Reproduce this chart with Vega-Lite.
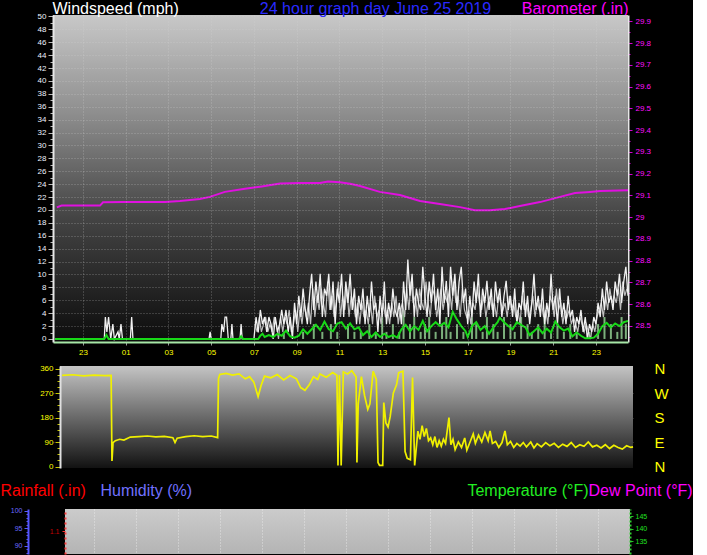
{
  "$schema": "https://vega.github.io/schema/vega-lite/v6.json",
  "background": "#000000",
  "padding": {"left": 0, "top": 0, "right": 0, "bottom": 0},
  "config": {
    "view": {"stroke": null},
    "font": "Liberation Sans",
    "axis": {"labelFont": "Liberation Sans", "titleFont": "Liberation Sans", "labelOverlap": false, "labelFlush": false, "titlePadding": 0}
  },
  "columns": 1,
  "spacing": 0,
  "concat": [
    {
      "width": 575,
      "height": 327,
      "resolve": {"scale": {"y": "independent"}},
      "layer": [
        {
          "layer": [
            {
              "data": {"values": [{}]},
              "mark": {"type": "rect", "fill": {"x1": 0, "y1": 0, "x2": 0, "y2": 1, "gradient": "linear", "stops": [{"offset": 0, "color": "#c8c8c8"}, {"offset": 0.3, "color": "#8e8e8e"}, {"offset": 0.62, "color": "#444444"}, {"offset": 1, "color": "#0c0c0c"}]}},
              "encoding": {
                "x": {"datum": -2.4, "type": "quantitative", "scale": {"domain": [-2.4, 24.5], "nice": false, "zero": false},
                  "axis": {"zindex": 1, "values": [-1, 1, 3, 5, 7, 9, 11, 13, 15, 17, 19, 21, 23], "tickCount": 40, "labelExpr": "datum.value < 0 ? '23' : (datum.value < 10 ? '0' + datum.value : '' + datum.value)", "labelOverlap": false, "labelColor": "#ffff00", "labelFontSize": 8, "labelPadding": 3, "tickColor": "#9a9a9a", "tickSize": 3, "grid": true, "gridColor": "#d8d8d8", "gridDash": [1, 2], "gridOpacity": 0.4, "domainColor": "#a6e6a6", "domainWidth": 2, "title": "24 hour graph day June 25 2019", "titleAngle": 0, "titleAlign": "center", "titleBaseline": "alphabetic", "titleX": 322, "titleY": -329, "titleColor": "#2a2aff", "titleFontSize": 16, "titleFontWeight": "normal", "minExtent": 19, "maxExtent": 19}},
                "x2": {"datum": 24.5},
                "y": {"datum": 50.23, "type": "quantitative", "scale": {"domain": [-0.47, 50.23], "nice": false, "zero": false},
                  "axis": {"zindex": 1, "orient": "left", "values": [0,1,2,3,4,5,6,7,8,9,10,11,12,13,14,15,16,17,18,19,20,21,22,23,24,25,26,27,28,29,30,31,32,33,34,35,36,37,38,39,40,41,42,43,44,45,46,47,48,49,50], "tickCount": 100, "format": "d", "labelExpr": "datum.value % 2 == 0 ? datum.label : ''", "labelOverlap": false, "labelColor": "#eef3ff", "labelFontSize": 8, "labelPadding": 2, "tickColor": "#b8b8b8", "tickSize": {"condition": {"test": "datum.value % 2 == 0", "value": 5}, "value": 3}, "grid": true, "gridColor": "#d8d8d8", "gridDash": [1, 2], "gridOpacity": {"condition": {"test": "datum.value % 2 == 0 && datum.value > 0", "value": 0.4}, "value": 0}, "domainColor": "#e8e8e8", "domainWidth": 2, "title": "Windspeed (mph)", "titleAngle": 0, "titleAlign": "left", "titleBaseline": "alphabetic", "titleX": -1, "titleY": -2, "titleColor": "#ffffff", "titleFontSize": 16, "titleFontWeight": "normal", "minExtent": 53, "maxExtent": 53}},
                "y2": {"datum": -0.47}
              }
            },
            {
              "data": {"values": [
                {"h": 8.4, "w": 1.1}, {"h": 9.3, "w": 1.1}, {"h": 9.8, "w": 2.3}, {"h": 10.2, "w": 1.1}, {"h": 10.6, "w": 2.3}, {"h": 10.9, "w": 1.1}, {"h": 11.4, "w": 2.3}, {"h": 11.7, "w": 1.1}, {"h": 12.0, "w": 1.1}, {"h": 12.4, "w": 2.3}, {"h": 12.7, "w": 1.1}, {"h": 13.0, "w": 3.4}, {"h": 13.2, "w": 1.1}, {"h": 13.5, "w": 2.3}, {"h": 13.8, "w": 1.1}, {"h": 14.0, "w": 4.5}, {"h": 14.3, "w": 2.3}, {"h": 14.5, "w": 3.4}, {"h": 14.8, "w": 1.1}, {"h": 15.0, "w": 2.3}, {"h": 15.2, "w": 3.4}, {"h": 15.5, "w": 1.1}, {"h": 15.8, "w": 2.3}, {"h": 16.0, "w": 3.4}, {"h": 16.2, "w": 1.1}, {"h": 16.5, "w": 2.3}, {"h": 16.8, "w": 1.1}, {"h": 17.2, "w": 3.4}, {"h": 17.4, "w": 2.3}, {"h": 17.7, "w": 1.1}, {"h": 17.9, "w": 3.4}, {"h": 18.2, "w": 2.3}, {"h": 18.4, "w": 1.1}, {"h": 18.7, "w": 3.4}, {"h": 19.0, "w": 2.3}, {"h": 19.2, "w": 1.1}, {"h": 19.5, "w": 3.4}, {"h": 19.8, "w": 2.3}, {"h": 20.0, "w": 1.1}, {"h": 20.3, "w": 2.3}, {"h": 20.6, "w": 3.4}, {"h": 20.9, "w": 1.1}, {"h": 21.2, "w": 2.3}, {"h": 21.5, "w": 1.1}, {"h": 21.8, "w": 2.3}, {"h": 22.1, "w": 1.1}, {"h": 22.7, "w": 1.1}, {"h": 23.1, "w": 2.3}, {"h": 23.4, "w": 3.4}, {"h": 23.7, "w": 2.3}, {"h": 24.0, "w": 1.1}, {"h": 24.2, "w": 3.4}, {"h": 24.4, "w": 2.3}
              ]},
              "mark": {"type": "rule", "color": "#a0e6a0", "strokeWidth": 2, "opacity": 0.75},
              "encoding": {
                "x": {"field": "h", "type": "quantitative", "scale": {"domain": [-2.4, 24.5], "nice": false, "zero": false}},
                "y": {"field": "w", "type": "quantitative", "scale": {"domain": [-0.47, 50.23], "nice": false, "zero": false}},
                "y2": {"datum": 0}
              }
            },
            {
              "data": {"values": [
                {"h": 7.05, "w": 2.3}, {"h": 7.15, "w": 1.1}, {"h": 7.25, "w": 3.4}, {"h": 7.35, "w": 1.1}, {"h": 7.45, "w": 2.3}, {"h": 7.55, "w": 3.4}, {"h": 7.65, "w": 1.1}, {"h": 7.75, "w": 2.3}, {"h": 7.85, "w": 1.1}, {"h": 7.95, "w": 3.4}, {"h": 8.05, "w": 2.3}, {"h": 8.15, "w": 0}, {"h": 8.25, "w": 3.4}, {"h": 8.35, "w": 1.1}, {"h": 8.45, "w": 3.4}, {"h": 8.55, "w": 2.3}, {"h": 8.65, "w": 4.5}, {"h": 8.75, "w": 1.1}, {"h": 8.85, "w": 2.3}, {"h": 8.95, "w": 4.5},
                {"h": 9.05, "w": 1.1}, {"h": 9.15, "w": 4.5}, {"h": 9.25, "w": 2.3}, {"h": 9.35, "w": 5.6}, {"h": 9.45, "w": 3.4}, {"h": 9.55, "w": 5.6}, {"h": 9.65, "w": 2.3}, {"h": 9.75, "w": 7.8}, {"h": 9.85, "w": 3.4}, {"h": 9.95, "w": 6.7}, {"h": 10.05, "w": 4.5}, {"h": 10.15, "w": 7.8}, {"h": 10.25, "w": 5.6}, {"h": 10.35, "w": 3.4}, {"h": 10.45, "w": 8.9}, {"h": 10.55, "w": 4.5}, {"h": 10.65, "w": 6.7}, {"h": 10.75, "w": 3.4}, {"h": 10.85, "w": 5.6}, {"h": 10.95, "w": 8.9},
                {"h": 11.05, "w": 3.4}, {"h": 11.15, "w": 6.7}, {"h": 11.25, "w": 4.5}, {"h": 11.35, "w": 7.8}, {"h": 11.45, "w": 3.4}, {"h": 11.55, "w": 6.7}, {"h": 11.65, "w": 5.6}, {"h": 11.75, "w": 3.4}, {"h": 11.85, "w": 5.6}, {"h": 11.95, "w": 2.3}, {"h": 12.05, "w": 5.6}, {"h": 12.15, "w": 3.4}, {"h": 12.25, "w": 4.5}, {"h": 12.35, "w": 2.3}, {"h": 12.45, "w": 5.6}, {"h": 12.55, "w": 2.3}, {"h": 12.65, "w": 6.7}, {"h": 12.75, "w": 3.4}, {"h": 12.85, "w": 4.5}, {"h": 12.95, "w": 2.3},
                {"h": 13.05, "w": 5.6}, {"h": 13.15, "w": 3.4}, {"h": 13.25, "w": 4.5}, {"h": 13.35, "w": 2.3}, {"h": 13.45, "w": 5.6}, {"h": 13.55, "w": 3.4}, {"h": 13.65, "w": 6.7}, {"h": 13.75, "w": 2.3}, {"h": 13.85, "w": 4.5}, {"h": 13.95, "w": 5.6}, {"h": 14.05, "w": 3.4}, {"h": 14.15, "w": 7.8}, {"h": 14.25, "w": 4.5}, {"h": 14.35, "w": 8.9}, {"h": 14.45, "w": 5.6}, {"h": 14.55, "w": 6.7}, {"h": 14.65, "w": 3.4}, {"h": 14.75, "w": 7.8}, {"h": 14.85, "w": 5.6}, {"h": 14.95, "w": 4.5},
                {"h": 15.05, "w": 8.9}, {"h": 15.15, "w": 5.6}, {"h": 15.25, "w": 3.4}, {"h": 15.35, "w": 7.8}, {"h": 15.45, "w": 6.7}, {"h": 15.55, "w": 3.4}, {"h": 15.65, "w": 5.6}, {"h": 15.75, "w": 7.8}, {"h": 15.85, "w": 4.5}, {"h": 15.95, "w": 6.7}, {"h": 16.05, "w": 5.6}, {"h": 16.15, "w": 7.8}, {"h": 16.25, "w": 4.5}, {"h": 16.35, "w": 8.9}, {"h": 16.45, "w": 5.6}, {"h": 16.55, "w": 6.7}, {"h": 16.65, "w": 3.4}, {"h": 16.75, "w": 7.8}, {"h": 16.85, "w": 4.5}, {"h": 16.95, "w": 3.4},
                {"h": 17.05, "w": 4.5}, {"h": 17.15, "w": 2.3}, {"h": 17.25, "w": 5.6}, {"h": 17.35, "w": 4.5}, {"h": 17.45, "w": 7.8}, {"h": 17.55, "w": 5.6}, {"h": 17.65, "w": 4.5}, {"h": 17.75, "w": 6.7}, {"h": 17.85, "w": 3.4}, {"h": 17.95, "w": 5.6}, {"h": 18.05, "w": 6.7}, {"h": 18.15, "w": 4.5}, {"h": 18.25, "w": 5.6}, {"h": 18.35, "w": 3.4}, {"h": 18.45, "w": 6.7}, {"h": 18.55, "w": 5.6}, {"h": 18.65, "w": 4.5}, {"h": 18.75, "w": 5.6}, {"h": 18.85, "w": 3.4}, {"h": 18.95, "w": 6.7},
                {"h": 19.05, "w": 4.5}, {"h": 19.15, "w": 5.6}, {"h": 19.25, "w": 3.4}, {"h": 19.35, "w": 4.5}, {"h": 19.45, "w": 2.3}, {"h": 19.55, "w": 6.7}, {"h": 19.65, "w": 4.5}, {"h": 19.75, "w": 5.6}, {"h": 19.85, "w": 3.4}, {"h": 19.95, "w": 4.5}, {"h": 20.05, "w": 6.7}, {"h": 20.15, "w": 3.4}, {"h": 20.25, "w": 5.6}, {"h": 20.35, "w": 4.5}, {"h": 20.45, "w": 5.6}, {"h": 20.55, "w": 3.4}, {"h": 20.65, "w": 4.5}, {"h": 20.75, "w": 2.3}, {"h": 20.85, "w": 6.7}, {"h": 20.95, "w": 5.6},
                {"h": 21.05, "w": 3.4}, {"h": 21.15, "w": 7.8}, {"h": 21.25, "w": 4.5}, {"h": 21.35, "w": 5.6}, {"h": 21.45, "w": 2.3}, {"h": 21.55, "w": 4.5}, {"h": 21.65, "w": 3.4}, {"h": 21.75, "w": 4.5}, {"h": 21.85, "w": 2.3}, {"h": 21.95, "w": 3.4}, {"h": 22.05, "w": 2.3}, {"h": 22.15, "w": 1.1}, {"h": 22.25, "w": 3.4}, {"h": 22.35, "w": 2.3}, {"h": 22.45, "w": 1.1}, {"h": 22.55, "w": 2.3}, {"h": 22.65, "w": 1.1}, {"h": 22.75, "w": 0}, {"h": 22.85, "w": 2.3}, {"h": 22.95, "w": 1.1},
                {"h": 23.05, "w": 3.4}, {"h": 23.15, "w": 4.5}, {"h": 23.25, "w": 5.6}, {"h": 23.35, "w": 3.4}, {"h": 23.45, "w": 6.7}, {"h": 23.55, "w": 4.5}, {"h": 23.65, "w": 7.8}, {"h": 23.75, "w": 5.6}, {"h": 23.85, "w": 6.7}, {"h": 23.95, "w": 5.6}, {"h": 24.05, "w": 7.8}, {"h": 24.15, "w": 4.5}, {"h": 24.25, "w": 8.9}, {"h": 24.35, "w": 6.7}, {"h": 24.45, "w": 7.8}
              ]},
              "mark": {"type": "line", "color": "#bdbdbd", "strokeWidth": 1.2},
              "encoding": {
                "x": {"field": "h", "type": "quantitative", "scale": {"domain": [-2.4, 24.5], "nice": false, "zero": false}},
                "y": {"field": "w", "type": "quantitative", "scale": {"domain": [-0.47, 50.23], "nice": false, "zero": false}}
              }
            },
            {
              "data": {"values": [
                {"h": -2.3, "w": 0}, {"h": 0, "w": 0}, {"h": 0.05, "w": 3.4}, {"h": 0.12, "w": 1.1}, {"h": 0.2, "w": 3.4}, {"h": 0.3, "w": 0}, {"h": 0.4, "w": 2.3}, {"h": 0.47, "w": 0}, {"h": 0.64, "w": 1.1}, {"h": 0.7, "w": 0}, {"h": 0.78, "w": 2.3}, {"h": 0.85, "w": 0}, {"h": 1.22, "w": 0}, {"h": 1.28, "w": 3.4}, {"h": 1.34, "w": 0}, {"h": 4.9, "w": 0}, {"h": 4.95, "w": 1.1}, {"h": 5.0, "w": 0}, {"h": 5.45, "w": 0}, {"h": 5.5, "w": 2.3}, {"h": 5.58, "w": 1.1}, {"h": 5.65, "w": 3.4}, {"h": 5.72, "w": 3.4}, {"h": 5.8, "w": 0}, {"h": 5.92, "w": 0}, {"h": 5.97, "w": 2.3}, {"h": 6.02, "w": 0}, {"h": 6.35, "w": 0}, {"h": 6.4, "w": 2.3}, {"h": 6.45, "w": 0}, {"h": 7.0, "w": 0},
                {"h": 7.1, "w": 3.4}, {"h": 7.2, "w": 1.0}, {"h": 7.3, "w": 4.5}, {"h": 7.4, "w": 2.3}, {"h": 7.5, "w": 3.4}, {"h": 7.6, "w": 1.1}, {"h": 7.7, "w": 3.4}, {"h": 7.8, "w": 2.3}, {"h": 7.9, "w": 0}, {"h": 8.0, "w": 3.4}, {"h": 8.1, "w": 1.1}, {"h": 8.2, "w": 2.3}, {"h": 8.3, "w": 4.5}, {"h": 8.4, "w": 2.3}, {"h": 8.5, "w": 4.5}, {"h": 8.6, "w": 1.1}, {"h": 8.7, "w": 3.4}, {"h": 8.8, "w": 0}, {"h": 8.9, "w": 5.6},
                {"h": 9.0, "w": 2.3}, {"h": 9.1, "w": 6.7}, {"h": 9.2, "w": 3.4}, {"h": 9.3, "w": 7.8}, {"h": 9.4, "w": 4.5}, {"h": 9.5, "w": 2.3}, {"h": 9.6, "w": 6.7}, {"h": 9.7, "w": 10.1}, {"h": 9.8, "w": 4.5}, {"h": 9.9, "w": 8.9}, {"h": 10.0, "w": 5.6}, {"h": 10.1, "w": 10.1}, {"h": 10.2, "w": 3.4}, {"h": 10.3, "w": 7.8}, {"h": 10.4, "w": 6.7}, {"h": 10.5, "w": 10.1}, {"h": 10.6, "w": 4.5}, {"h": 10.7, "w": 8.9}, {"h": 10.8, "w": 2.3}, {"h": 10.9, "w": 7.8}, {"h": 11.0, "w": 5.6}, {"h": 11.1, "w": 10.1}, {"h": 11.2, "w": 3.4}, {"h": 11.3, "w": 8.9}, {"h": 11.4, "w": 5.6}, {"h": 11.5, "w": 10.1}, {"h": 11.6, "w": 4.5}, {"h": 11.7, "w": 7.8}, {"h": 11.8, "w": 2.3}, {"h": 11.9, "w": 6.7},
                {"h": 12.0, "w": 4.5}, {"h": 12.1, "w": 7.8}, {"h": 12.2, "w": 2.3}, {"h": 12.3, "w": 6.7}, {"h": 12.4, "w": 3.4}, {"h": 12.5, "w": 8.9}, {"h": 12.6, "w": 4.5}, {"h": 12.7, "w": 5.6}, {"h": 12.8, "w": 1.1}, {"h": 12.9, "w": 6.7}, {"h": 13.0, "w": 3.4}, {"h": 13.1, "w": 8.9}, {"h": 13.2, "w": 2.3}, {"h": 13.3, "w": 5.6}, {"h": 13.4, "w": 3.4}, {"h": 13.5, "w": 7.8}, {"h": 13.6, "w": 4.5}, {"h": 13.7, "w": 3.4}, {"h": 13.8, "w": 5.6}, {"h": 13.9, "w": 2.3}, {"h": 14.0, "w": 8.9}, {"h": 14.1, "w": 4.5}, {"h": 14.2, "w": 12.3}, {"h": 14.3, "w": 6.7}, {"h": 14.4, "w": 10.1}, {"h": 14.5, "w": 3.4}, {"h": 14.6, "w": 7.8}, {"h": 14.7, "w": 5.6}, {"h": 14.8, "w": 4.5}, {"h": 14.9, "w": 11.2},
                {"h": 15.0, "w": 6.7}, {"h": 15.1, "w": 3.4}, {"h": 15.2, "w": 8.9}, {"h": 15.3, "w": 5.6}, {"h": 15.4, "w": 10.1}, {"h": 15.5, "w": 4.5}, {"h": 15.6, "w": 7.8}, {"h": 15.7, "w": 2.3}, {"h": 15.8, "w": 11.2}, {"h": 15.9, "w": 5.6}, {"h": 16.0, "w": 9.0}, {"h": 16.1, "w": 3.4}, {"h": 16.2, "w": 11.2}, {"h": 16.3, "w": 6.7}, {"h": 16.4, "w": 10.1}, {"h": 16.5, "w": 4.5}, {"h": 16.6, "w": 8.9}, {"h": 16.7, "w": 11.2}, {"h": 16.8, "w": 5.6}, {"h": 16.9, "w": 7.8}, {"h": 17.0, "w": 2.3}, {"h": 17.1, "w": 6.7}, {"h": 17.2, "w": 3.4}, {"h": 17.3, "w": 8.9}, {"h": 17.4, "w": 5.6}, {"h": 17.5, "w": 10.1}, {"h": 17.6, "w": 3.4}, {"h": 17.7, "w": 7.8}, {"h": 17.8, "w": 5.6}, {"h": 17.9, "w": 9.0},
                {"h": 18.0, "w": 4.5}, {"h": 18.1, "w": 7.8}, {"h": 18.2, "w": 3.4}, {"h": 18.3, "w": 8.9}, {"h": 18.4, "w": 5.6}, {"h": 18.5, "w": 7.8}, {"h": 18.6, "w": 3.4}, {"h": 18.7, "w": 6.7}, {"h": 18.8, "w": 9.0}, {"h": 18.9, "w": 4.5}, {"h": 19.0, "w": 6.7}, {"h": 19.1, "w": 3.4}, {"h": 19.2, "w": 7.8}, {"h": 19.3, "w": 2.3}, {"h": 19.4, "w": 5.6}, {"h": 19.5, "w": 4.5}, {"h": 19.6, "w": 8.9}, {"h": 19.7, "w": 3.4}, {"h": 19.8, "w": 6.7}, {"h": 19.9, "w": 2.3}, {"h": 20.0, "w": 5.6}, {"h": 20.1, "w": 10.1}, {"h": 20.2, "w": 4.5}, {"h": 20.3, "w": 6.7}, {"h": 20.4, "w": 3.4}, {"h": 20.5, "w": 7.8}, {"h": 20.6, "w": 2.3}, {"h": 20.7, "w": 5.6}, {"h": 20.8, "w": 3.4}, {"h": 20.9, "w": 10.1},
                {"h": 21.0, "w": 4.5}, {"h": 21.1, "w": 6.7}, {"h": 21.2, "w": 2.3}, {"h": 21.3, "w": 7.8}, {"h": 21.4, "w": 3.4}, {"h": 21.5, "w": 5.6}, {"h": 21.6, "w": 2.3}, {"h": 21.7, "w": 6.7}, {"h": 21.8, "w": 3.4}, {"h": 21.9, "w": 4.5}, {"h": 22.0, "w": 1.1}, {"h": 22.1, "w": 3.4}, {"h": 22.2, "w": 2.3}, {"h": 22.3, "w": 4.5}, {"h": 22.4, "w": 1.1}, {"h": 22.5, "w": 3.4}, {"h": 22.6, "w": 0}, {"h": 22.7, "w": 2.3}, {"h": 22.8, "w": 1.1}, {"h": 22.9, "w": 3.4}, {"h": 23.0, "w": 2.3}, {"h": 23.1, "w": 5.6}, {"h": 23.2, "w": 3.4}, {"h": 23.3, "w": 7.8}, {"h": 23.4, "w": 4.5}, {"h": 23.5, "w": 8.9}, {"h": 23.6, "w": 5.6}, {"h": 23.7, "w": 6.7}, {"h": 23.8, "w": 4.5}, {"h": 23.9, "w": 8.9}, {"h": 24.0, "w": 6.7}, {"h": 24.1, "w": 10.1}, {"h": 24.2, "w": 5.6}, {"h": 24.3, "w": 8.9}, {"h": 24.4, "w": 11.2}, {"h": 24.5, "w": 6.7}
              ]},
              "mark": {"type": "line", "color": "#f2f2f2", "strokeWidth": 1.3},
              "encoding": {
                "x": {"field": "h", "type": "quantitative", "scale": {"domain": [-2.4, 24.5], "nice": false, "zero": false}},
                "y": {"field": "w", "type": "quantitative", "scale": {"domain": [-0.47, 50.23], "nice": false, "zero": false}}
              }
            },
            {
              "data": {"values": [
                {"h": -2.3, "w": 0}, {"h": 0.0, "w": 0}, {"h": 0.1, "w": 0.6}, {"h": 0.2, "w": 0}, {"h": 6.3, "w": 0}, {"h": 6.4, "w": 0.4}, {"h": 6.5, "w": 0}, {"h": 7.2, "w": 0}, {"h": 7.3, "w": 0.5}, {"h": 7.4, "w": 0.8}, {"h": 7.5, "w": 0.3}, {"h": 7.7, "w": 0.6}, {"h": 7.9, "w": 0.3}, {"h": 8.1, "w": 0.8}, {"h": 8.3, "w": 0.5}, {"h": 8.5, "w": 1.3}, {"h": 8.7, "w": 0.4}, {"h": 8.9, "w": 0.2}, {"h": 9.1, "w": 0.5}, {"h": 9.3, "w": 1.5}, {"h": 9.5, "w": 0.8}, {"h": 9.7, "w": 1.5}, {"h": 9.9, "w": 2.2}, {"h": 10.1, "w": 1.4}, {"h": 10.3, "w": 2.7}, {"h": 10.5, "w": 1.5}, {"h": 10.7, "w": 1.2}, {"h": 10.9, "w": 2.4}, {"h": 11.1, "w": 2.6}, {"h": 11.3, "w": 1.6}, {"h": 11.5, "w": 2.4}, {"h": 11.7, "w": 1.5}, {"h": 11.9, "w": 1.8}, {"h": 12.1, "w": 0.6}, {"h": 12.3, "w": 1.2}, {"h": 12.5, "w": 0.3}, {"h": 12.7, "w": 1.0}, {"h": 12.9, "w": 0.3}, {"h": 13.1, "w": 0.8}, {"h": 13.3, "w": 0.3}, {"h": 13.5, "w": 0.6}, {"h": 13.7, "w": 0.2}, {"h": 13.9, "w": 1.5}, {"h": 14.1, "w": 2.2}, {"h": 14.3, "w": 1.2}, {"h": 14.5, "w": 2.0}, {"h": 14.7, "w": 1.4}, {"h": 14.9, "w": 2.8}, {"h": 15.1, "w": 1.2}, {"h": 15.3, "w": 2.0}, {"h": 15.5, "w": 2.6}, {"h": 15.7, "w": 2.0}, {"h": 15.9, "w": 2.5}, {"h": 16.1, "w": 1.8}, {"h": 16.3, "w": 4.2}, {"h": 16.5, "w": 3.0}, {"h": 16.7, "w": 2.0}, {"h": 16.9, "w": 1.2}, {"h": 17.0, "w": 0.3}, {"h": 17.2, "w": 2.0}, {"h": 17.4, "w": 2.6}, {"h": 17.6, "w": 1.4}, {"h": 17.8, "w": 2.0}, {"h": 18.0, "w": 0.8}, {"h": 18.2, "w": 1.8}, {"h": 18.4, "w": 2.6}, {"h": 18.5, "w": 3.3}, {"h": 18.7, "w": 2.6}, {"h": 18.9, "w": 2.0}, {"h": 19.1, "w": 1.5}, {"h": 19.3, "w": 2.6}, {"h": 19.5, "w": 2.2}, {"h": 19.7, "w": 1.8}, {"h": 19.9, "w": 0.6}, {"h": 20.1, "w": 1.2}, {"h": 20.3, "w": 1.8}, {"h": 20.5, "w": 0.9}, {"h": 20.7, "w": 1.6}, {"h": 20.9, "w": 1.0}, {"h": 21.1, "w": 2.7}, {"h": 21.3, "w": 1.8}, {"h": 21.5, "w": 1.3}, {"h": 21.7, "w": 1.6}, {"h": 21.9, "w": 0.4}, {"h": 22.1, "w": 1.0}, {"h": 22.3, "w": 0.5}, {"h": 22.5, "w": 0.1}, {"h": 22.7, "w": 0.1}, {"h": 22.9, "w": 0.2}, {"h": 23.1, "w": 0.8}, {"h": 23.3, "w": 2.0}, {"h": 23.5, "w": 2.5}, {"h": 23.7, "w": 1.8}, {"h": 23.9, "w": 2.4}, {"h": 24.1, "w": 2.0}, {"h": 24.3, "w": 2.6}, {"h": 24.5, "w": 2.8}
              ]},
              "mark": {"type": "line", "color": "#18d818", "strokeWidth": 2},
              "encoding": {
                "x": {"field": "h", "type": "quantitative", "scale": {"domain": [-2.4, 24.5], "nice": false, "zero": false}},
                "y": {"field": "w", "type": "quantitative", "scale": {"domain": [-0.47, 50.23], "nice": false, "zero": false}}
              }
            }
          ]
        },
        {
          "data": {"values": [
            {"h": -2.22, "p": 29.045}, {"h": -2.0, "p": 29.053}, {"h": -1.0, "p": 29.053}, {"h": -0.2, "p": 29.053}, {"h": -0.06, "p": 29.068}, {"h": 0.87, "p": 29.07}, {"h": 1.67, "p": 29.07}, {"h": 2.84, "p": 29.07}, {"h": 3.54, "p": 29.074}, {"h": 4.47, "p": 29.083}, {"h": 4.94, "p": 29.093}, {"h": 5.64, "p": 29.116}, {"h": 6.58, "p": 29.13}, {"h": 7.37, "p": 29.141}, {"h": 8.22, "p": 29.154}, {"h": 9.15, "p": 29.157}, {"h": 10.09, "p": 29.157}, {"h": 10.46, "p": 29.164}, {"h": 11.02, "p": 29.16}, {"h": 11.5, "p": 29.153}, {"h": 11.96, "p": 29.143}, {"h": 12.89, "p": 29.116}, {"h": 13.83, "p": 29.102}, {"h": 14.77, "p": 29.074}, {"h": 15.7, "p": 29.06}, {"h": 16.64, "p": 29.046}, {"h": 17.34, "p": 29.032}, {"h": 18.04, "p": 29.032}, {"h": 18.74, "p": 29.037}, {"h": 19.44, "p": 29.051}, {"h": 20.38, "p": 29.069}, {"h": 21.32, "p": 29.093}, {"h": 22.02, "p": 29.111}, {"h": 22.72, "p": 29.116}, {"h": 23.19, "p": 29.12}, {"h": 24.5, "p": 29.123}
          ]},
          "mark": {"type": "line", "color": "#e010e0", "strokeWidth": 2},
          "encoding": {
            "x": {"field": "h", "type": "quantitative", "scale": {"domain": [-2.4, 24.5], "nice": false, "zero": false}},
            "y": {"field": "p", "type": "quantitative", "scale": {"domain": [28.426, 29.929], "nice": false, "zero": false},
              "axis": {"orient": "right", "values": [28.45, 28.5, 28.55, 28.6, 28.65, 28.7, 28.75, 28.8, 28.85, 28.9, 28.95, 29, 29.05, 29.1, 29.15, 29.2, 29.25, 29.3, 29.35, 29.4, 29.45, 29.5, 29.55, 29.6, 29.65, 29.7, 29.75, 29.8, 29.85, 29.9], "tickCount": 100, "labelExpr": "round(datum.value*20) % 2 == 0 ? format(datum.value, '.1~f') : ''", "labelOverlap": false, "labelColor": "#ff10ff", "labelFontSize": 8, "labelPadding": 3, "tickColor": "#d000d0", "tickSize": {"condition": {"test": "round(datum.value*20) % 2 == 0", "value": 4}, "value": 2}, "grid": false, "domainColor": "#e8e8e8", "domainWidth": 2, "title": "Barometer (.in)", "titleAngle": 0, "titleAlign": "right", "titleBaseline": "alphabetic", "titleX": 0, "titleY": -2, "titleColor": "#ff00ff", "titleFontSize": 16, "titleFontWeight": "normal"}}
          }
        }
      ]
    },
    {
      "width": 580,
      "height": 102,
      "resolve": {"axis": {"y": "independent"}},
      "layer": [
        {
          "data": {"values": [{}]},
          "mark": {"type": "rect", "fill": {"x1": 0, "y1": 0, "x2": 0, "y2": 1, "gradient": "linear", "stops": [{"offset": 0, "color": "#c4c4c4"}, {"offset": 0.5, "color": "#6a6a6a"}, {"offset": 1, "color": "#121212"}]}},
          "encoding": {
            "x": {"datum": -2.4, "type": "quantitative", "scale": {"domain": [-2.7286, 24.5], "nice": false, "zero": false},
              "axis": {"labels": false, "ticks": false, "grid": false, "domain": false, "title": null, "minExtent": 14, "maxExtent": 14}},
            "x2": {"datum": 24.5},
            "y": {"datum": 369.2, "type": "quantitative", "scale": {"domain": [-5.5, 369.2], "nice": false, "zero": false},
              "axis": {"zindex": 1, "orient": "left", "offset": -7, "values": [0, 22.5, 45, 67.5, 90, 112.5, 135, 157.5, 180, 202.5, 225, 247.5, 270, 292.5, 315, 337.5, 360], "tickCount": 100, "format": "d", "labelExpr": "datum.value % 90 == 0 ? datum.label : ''", "labelOverlap": false, "labelColor": "#ffff00", "labelFontSize": 8, "labelPadding": 2, "tickColor": "#c8c800", "tickSize": {"condition": {"test": "datum.value % 90 == 0", "value": 5}, "value": 3}, "grid": false, "domainColor": "#e0e0e0", "domainWidth": 2, "title": null, "minExtent": 60, "maxExtent": 60}},
            "y2": {"datum": -5.5}
          }
        },
        {
          "data": {"values": [
            {"h": -2.3, "d": 335}, {"h": -1.8, "d": 337}, {"h": -1.3, "d": 333}, {"h": -0.8, "d": 336}, {"h": -0.3, "d": 334}, {"h": 0.0, "d": 335}, {"h": 0.04, "d": 20}, {"h": 0.09, "d": 88}, {"h": 0.2, "d": 95}, {"h": 0.4, "d": 100}, {"h": 0.6, "d": 97}, {"h": 0.9, "d": 108}, {"h": 1.3, "d": 110}, {"h": 1.7, "d": 112}, {"h": 2.1, "d": 109}, {"h": 2.5, "d": 111}, {"h": 2.9, "d": 106}, {"h": 3.0, "d": 88}, {"h": 3.1, "d": 104}, {"h": 3.5, "d": 110}, {"h": 3.9, "d": 113}, {"h": 4.3, "d": 110}, {"h": 4.7, "d": 112}, {"h": 5.0, "d": 106}, {"h": 5.04, "d": 323}, {"h": 5.1, "d": 338}, {"h": 5.4, "d": 342}, {"h": 5.7, "d": 336}, {"h": 6.0, "d": 340}, {"h": 6.3, "d": 322}, {"h": 6.5, "d": 330}, {"h": 6.7, "d": 310}, {"h": 6.9, "d": 257}, {"h": 7.05, "d": 300}, {"h": 7.2, "d": 332}, {"h": 7.5, "d": 326}, {"h": 7.8, "d": 338}, {"h": 8.1, "d": 318}, {"h": 8.4, "d": 334}, {"h": 8.7, "d": 322}, {"h": 8.9, "d": 290}, {"h": 9.1, "d": 280}, {"h": 9.3, "d": 300}, {"h": 9.5, "d": 330}, {"h": 9.7, "d": 320}, {"h": 9.8, "d": 340}, {"h": 10.1, "d": 328}, {"h": 10.4, "d": 345}, {"h": 10.6, "d": 335}, {"h": 10.65, "d": 4}, {"h": 10.72, "d": 336}, {"h": 10.8, "d": 4}, {"h": 10.9, "d": 348}, {"h": 11.1, "d": 340}, {"h": 11.3, "d": 352}, {"h": 11.5, "d": 330}, {"h": 11.54, "d": 15}, {"h": 11.6, "d": 230}, {"h": 11.75, "d": 330}, {"h": 11.9, "d": 260}, {"h": 12.05, "d": 210}, {"h": 12.15, "d": 230}, {"h": 12.3, "d": 350}, {"h": 12.45, "d": 320}, {"h": 12.53, "d": 15}, {"h": 12.6, "d": 4}, {"h": 12.75, "d": 4}, {"h": 12.8, "d": 235}, {"h": 12.9, "d": 160}, {"h": 13.0, "d": 145}, {"h": 13.1, "d": 183}, {"h": 13.25, "d": 270}, {"h": 13.4, "d": 300}, {"h": 13.5, "d": 345}, {"h": 13.7, "d": 350}, {"h": 13.8, "d": 55}, {"h": 13.9, "d": 30}, {"h": 14.05, "d": 25}, {"h": 14.15, "d": 327}, {"h": 14.25, "d": 4}, {"h": 14.4, "d": 130}, {"h": 14.5, "d": 100}, {"h": 14.6, "d": 150}, {"h": 14.7, "d": 110}, {"h": 14.8, "d": 140}, {"h": 14.9, "d": 95}, {"h": 15.0, "d": 105}, {"h": 15.1, "d": 80}, {"h": 15.2, "d": 110}, {"h": 15.3, "d": 70}, {"h": 15.4, "d": 95}, {"h": 15.5, "d": 75}, {"h": 15.6, "d": 100}, {"h": 15.7, "d": 85}, {"h": 15.86, "d": 180}, {"h": 15.95, "d": 80}, {"h": 16.05, "d": 100}, {"h": 16.15, "d": 62}, {"h": 16.3, "d": 90}, {"h": 16.45, "d": 70}, {"h": 16.6, "d": 105}, {"h": 16.7, "d": 60}, {"h": 16.85, "d": 90}, {"h": 17.0, "d": 120}, {"h": 17.1, "d": 85}, {"h": 17.25, "d": 115}, {"h": 17.4, "d": 90}, {"h": 17.55, "d": 125}, {"h": 17.7, "d": 95}, {"h": 17.79, "d": 131}, {"h": 17.9, "d": 85}, {"h": 18.05, "d": 92}, {"h": 18.2, "d": 70}, {"h": 18.35, "d": 88}, {"h": 18.49, "d": 131}, {"h": 18.6, "d": 80}, {"h": 18.75, "d": 92}, {"h": 18.9, "d": 70}, {"h": 19.05, "d": 85}, {"h": 19.2, "d": 75}, {"h": 19.35, "d": 88}, {"h": 19.5, "d": 72}, {"h": 19.7, "d": 90}, {"h": 19.85, "d": 68}, {"h": 20.0, "d": 84}, {"h": 20.2, "d": 72}, {"h": 20.4, "d": 88}, {"h": 20.6, "d": 76}, {"h": 20.8, "d": 85}, {"h": 21.0, "d": 70}, {"h": 21.2, "d": 82}, {"h": 21.4, "d": 74}, {"h": 21.6, "d": 88}, {"h": 21.8, "d": 70}, {"h": 22.0, "d": 80}, {"h": 22.2, "d": 74}, {"h": 22.4, "d": 90}, {"h": 22.6, "d": 72}, {"h": 22.8, "d": 78}, {"h": 23.0, "d": 68}, {"h": 23.2, "d": 80}, {"h": 23.4, "d": 66}, {"h": 23.6, "d": 78}, {"h": 23.8, "d": 70}, {"h": 24.0, "d": 64}, {"h": 24.2, "d": 76}, {"h": 24.4, "d": 70}, {"h": 24.5, "d": 72}
          ]},
          "mark": {"type": "line", "color": "#f0f000", "strokeWidth": 1.7},
          "encoding": {
            "x": {"field": "h", "type": "quantitative", "scale": {"domain": [-2.7286, 24.5], "nice": false, "zero": false}},
            "y": {"field": "d", "type": "quantitative", "scale": {"domain": [-5.5, 369.2], "nice": false, "zero": false},
              "axis": {"orient": "right", "values": [0, 90, 180, 270, 360], "tickCount": 100, "labelExpr": "datum.value == 90 ? 'E' : (datum.value == 180 ? 'S' : (datum.value == 270 ? 'W' : 'N'))", "labelOverlap": false, "labelColor": "#ffff00", "labelFontSize": 15, "labelPadding": 21, "ticks": false, "domain": false, "grid": true, "gridColor": "#dddddd", "gridDash": [1, 2], "gridOpacity": {"condition": {"test": "datum.value > 0 && datum.value < 360", "value": 0.35}, "value": 0}, "title": null}}
          }
        }
      ]
    },
    {
      "width": 577,
      "height": 45,
      "resolve": {"scale": {"y": "independent"}},
      "layer": [
        {
          "data": {"values": [{}]},
          "mark": {"type": "rect", "fill": {"x1": 0, "y1": 0, "x2": 0, "y2": 1, "gradient": "linear", "stops": [{"offset": 0, "color": "#cbcbcb"}, {"offset": 1, "color": "#b4b4b4"}]}},
          "encoding": {
            "x": {"datum": -2.4, "type": "quantitative", "scale": {"domain": [-2.9713, 24.5], "nice": false, "zero": false},
              "axis": {"zindex": 1, "values": [-1, 1, 3, 5, 7, 9, 11, 13, 15, 17, 19, 21, 23], "tickCount": 40, "labels": false, "ticks": false, "domain": false, "grid": true, "gridColor": "#f4f4f4", "gridDash": [1, 2], "gridOpacity": 0.7, "title": null, "minExtent": 0, "maxExtent": 0}},
            "x2": {"datum": 24.5},
            "y": {"datum": 100.57, "type": "quantitative", "scale": {"domain": [87.7, 100.57], "nice": false, "zero": false},
              "axis": {"zindex": 1, "orient": "left", "offset": 25, "values": [88, 89, 90, 91, 92, 93, 94, 95, 96, 97, 98, 99, 100], "tickCount": 100, "format": "d", "labelExpr": "datum.value % 5 == 0 ? datum.label : ''", "labelOverlap": false, "labelColor": "#6b6bff", "labelFontSize": 7, "labelPadding": 2, "tickColor": "#5a5aff", "tickSize": {"condition": {"test": "datum.value % 5 == 0", "value": 4}, "value": 2}, "domainColor": "#5555ff", "domainWidth": 2, "grid": false, "title": "Humidity (%)", "titleAngle": 0, "titleAlign": "left", "titleBaseline": "alphabetic", "titleX": 72, "titleY": -14, "titleColor": "#7070ff", "titleFontSize": 16, "titleFontWeight": "normal", "minExtent": 28, "maxExtent": 28}},
            "y2": {"datum": 87.7}
          }
        },
        {
          "data": {"values": []},
          "mark": {"type": "line", "color": "#ff0000"},
          "encoding": {
            "x": {"field": "h", "type": "quantitative", "scale": {"domain": [-2.9713, 24.5], "nice": false, "zero": false}},
            "y": {"field": "rain", "type": "quantitative", "scale": {"domain": [0.998, 1.198], "nice": false, "zero": false},
              "axis": {"zindex": 1, "orient": "left", "offset": -12, "values": [1.1], "labelOverlap": false, "labelColor": "#c80000", "labelFontSize": 7, "labelPadding": 3, "tickColor": "#ff3030", "tickSize": 3, "domainColor": "#ff4040", "domainWidth": 2, "domainDash": [2, 3], "grid": false, "title": "Rainfall (.in)", "titleAngle": 0, "titleAlign": "left", "titleBaseline": "alphabetic", "titleX": -65, "titleY": -14, "titleColor": "#ff0000", "titleFontSize": 16, "titleFontWeight": "normal", "minExtent": 15, "maxExtent": 15}}
          }
        },
        {
          "data": {"values": []},
          "mark": {"type": "line", "color": "#00ff00"},
          "encoding": {
            "x": {"field": "h", "type": "quantitative", "scale": {"domain": [-2.9713, 24.5], "nice": false, "zero": false}},
            "y": {"field": "t", "type": "quantitative", "scale": {"domain": [129.9, 147.8], "nice": false, "zero": false},
              "axis": {"zindex": 1, "orient": "right", "values": [135, 140, 145], "tickCount": 20, "format": "d", "labelOverlap": false, "labelColor": "#20e020", "labelFontSize": 7, "labelPadding": 2, "tickColor": "#20c020", "tickSize": 3, "domainColor": "#30d030", "domainWidth": 2, "domainDash": [2, 2], "grid": false, "title": "Temperature (°F)", "titleAngle": 0, "titleAlign": "right", "titleBaseline": "alphabetic", "titleX": -42, "titleY": -14, "titleColor": "#22ee22", "titleFontSize": 16, "titleFontWeight": "normal"}}
          }
        },
        {
          "data": {"values": []},
          "mark": {"type": "line", "color": "#ff00ff"},
          "encoding": {
            "x": {"field": "h", "type": "quantitative", "scale": {"domain": [-2.9713, 24.5], "nice": false, "zero": false}},
            "y": {"field": "dp", "type": "quantitative", "scale": {"domain": [129.9, 147.8], "nice": false, "zero": false},
              "axis": {"orient": "right", "labels": false, "ticks": false, "domain": false, "grid": false, "title": "Dew Point (°F)", "titleAngle": 0, "titleAlign": "left", "titleBaseline": "alphabetic", "titleX": -42, "titleY": -14, "titleColor": "#ff00ff", "titleFontSize": 16, "titleFontWeight": "normal"}}
          }
        }
      ]
    }
  ]
}
